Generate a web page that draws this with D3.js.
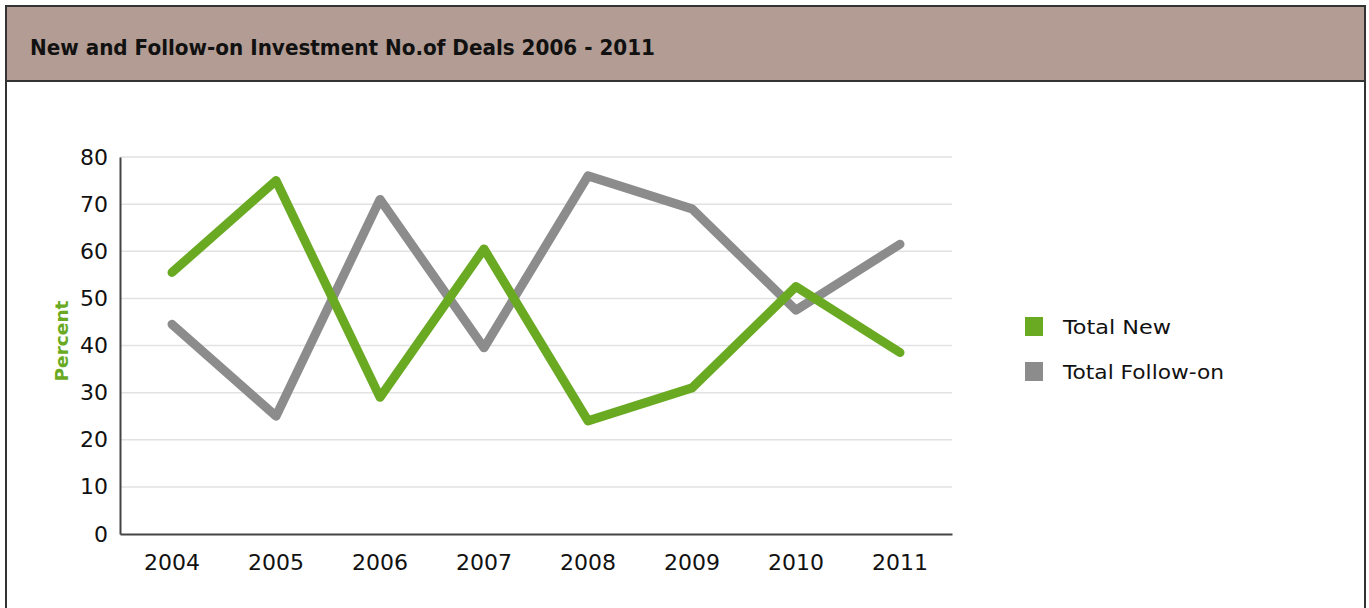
<!DOCTYPE html>
<html>
<head>
<meta charset="utf-8">
<script src="https://cdn.jsdelivr.net/npm/d3@7"></script>
<style>
  html, body { margin: 0; padding: 0; background: #fff; }
  svg { display: block; }
  text { font-family: "DejaVu Sans", "Lato", sans-serif; }
</style>
</head>
<body>
<svg id="chart" width="1369" height="608"></svg>
<script>
const title = "New and Follow-on Investment No.of Deals 2006 - 2011";
const years = ["2004", "2005", "2006", "2007", "2008", "2009", "2010", "2011"];
const totalNew = [55.5, 75, 29, 60.5, 24, 31, 52.5, 38.5];
const totalFollowOn = [44.5, 25, 71, 39.5, 76, 69, 47.5, 61.5];
const yTicks = [0, 10, 20, 30, 40, 50, 60, 70, 80];
const seriesNames = ["Total New", "Total Follow-on"];
const seriesColors = ["#6aaa23", "#8c8c8c"];

const svg = d3.select("#chart");
const FONT = "'DejaVu Sans', Lato, sans-serif";

// Frame and header
svg.append("rect").attr("x", 6).attr("y", 6).attr("width", 1359).attr("height", 640)
  .attr("fill", "#fff").attr("stroke", "#333").attr("stroke-width", 2);
svg.append("rect").attr("x", 6).attr("y", 6).attr("width", 1359).attr("height", 75)
  .attr("fill", "#b29c93").attr("stroke", "#333").attr("stroke-width", 2);
svg.append("text").attr("x", 30).attr("y", 55)
  .attr("font-size", 21).attr("font-weight", "bold").attr("fill", "#111")
  .attr("textLength", 625).attr("lengthAdjust", "spacingAndGlyphs")
  .text(title);

const x = d3.scaleBand().domain(years).range([120, 952]);
const y = d3.scaleLinear().domain([0, 80]).range([534, 157]);

// Gridlines
svg.append("g").selectAll("line").data(yTicks.filter(d => d > 0)).join("line")
  .attr("x1", 120).attr("x2", 952)
  .attr("y1", d => y(d)).attr("y2", d => y(d))
  .attr("stroke", "#e2e2e2").attr("stroke-width", 1.5);

// Axes
const yAxis = svg.append("g").attr("transform", "translate(120,0)")
  .call(d3.axisLeft(y).tickValues(yTicks).tickSize(0).tickPadding(12));
yAxis.select(".domain").attr("stroke", "#444").attr("stroke-width", 2);
yAxis.selectAll("text").attr("font-size", 22).attr("fill", "#111").attr("font-family", FONT);

const xAxis = svg.append("g").attr("transform", "translate(0,534)")
  .call(d3.axisBottom(x).tickSize(0).tickPadding(20));
xAxis.select(".domain").attr("stroke", "#444").attr("stroke-width", 2);
xAxis.selectAll("text").attr("font-size", 22).attr("fill", "#111").attr("font-family", FONT);

// Y label
svg.append("text").attr("transform", "translate(68,341) rotate(-90)")
  .attr("text-anchor", "middle").attr("font-size", 17).attr("font-weight", "bold")
  .attr("fill", "#6aaa23").attr("textLength", 81).attr("lengthAdjust", "spacingAndGlyphs")
  .text("Percent");

// Lines
const line = d3.line().x((d, i) => x(years[i]) + x.bandwidth() / 2).y(d => y(d));
[[totalFollowOn, seriesColors[1]], [totalNew, seriesColors[0]]].forEach(([s, c]) => {
  svg.append("path").datum(s).attr("d", line)
    .attr("fill", "none").attr("stroke", c)
    .attr("stroke-width", 9).attr("stroke-linecap", "round").attr("stroke-linejoin", "round");
});

// Legend
const legWidths = [108, 161];
const leg = svg.append("g");
seriesNames.forEach((n, i) => {
  const yy = 317 + i * 45;
  leg.append("rect").attr("x", 1025).attr("y", yy).attr("width", 18).attr("height", 19)
    .attr("fill", seriesColors[i]);
  leg.append("text").attr("x", 1063).attr("y", yy + 17).attr("font-size", 20)
    .attr("fill", "#111").attr("textLength", legWidths[i]).attr("lengthAdjust", "spacingAndGlyphs")
    .text(n);
});
</script>
</body>
</html>
